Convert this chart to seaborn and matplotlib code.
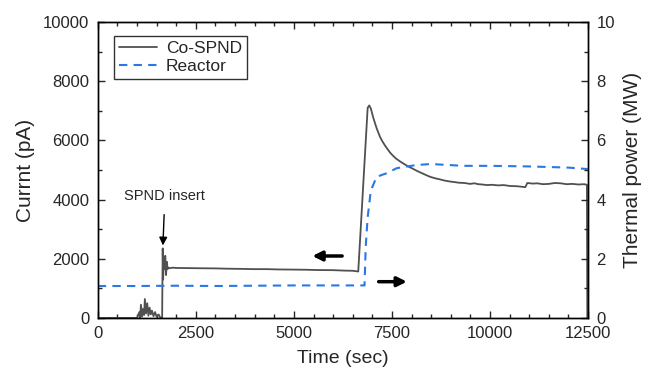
import matplotlib
matplotlib.use("Agg")
import matplotlib.pyplot as plt
from matplotlib.ticker import MultipleLocator
import numpy as np
import pandas as pd
import seaborn as sns

# Co-SPND current (pA) vs time (sec)
spnd_time = [0, 1000, 1060, 1080, 1100, 1130, 1150, 1180, 1200, 1230, 1260, 1290,
             1320, 1350, 1380, 1420, 1460, 1500, 1550, 1600, 1640, 1655, 1665, 1680,
             1700, 1720, 1740, 1760, 1780, 1800, 1850, 1900, 2000, 2300, 2600, 3000,
             3300, 3600, 4000, 4300, 4600, 5000, 5300, 5600, 6000, 6300, 6500, 6640,
             6880, 6920, 6960, 7024, 7109, 7194, 7250, 7320, 7400, 7449, 7520, 7600,
             7704, 7800, 7900, 7960, 8050, 8150, 8250, 8350, 8470, 8600, 8700, 8850,
             8980, 9100, 9200, 9350, 9490, 9600, 9700, 9800, 9923, 10050, 10200, 10350,
             10500, 10700, 10900, 10950, 11100, 11200, 11350, 11500, 11650, 11800,
             11950, 12100, 12250, 12400, 12470, 12480, 12500]
spnd_current = [0, 0, 200, 0, 450, 50, 300, 100, 640, 150, 500, 80,
                350, 120, 250, 60, 200, 40, 120, 0, 0, 2350, 1300, 1800,
                1650, 2100, 1450, 1900, 1650, 1700, 1680, 1700, 1690, 1685, 1680, 1675,
                1665, 1660, 1650, 1650, 1640, 1635, 1630, 1620, 1615, 1600, 1595, 1570,
                7100, 7180, 7080, 6760, 6410, 6120, 5980, 5830, 5680, 5590, 5490, 5390,
                5290, 5210, 5130, 5090, 5030, 4960, 4900, 4840, 4770, 4720, 4690, 4640,
                4610, 4590, 4570, 4560, 4530, 4550, 4520, 4510, 4490, 4500, 4480, 4490,
                4460, 4450, 4420, 4560, 4540, 4550, 4520, 4530, 4560, 4550,
                4520, 4530, 4510, 4520, 4500, 0, 0]

# Reactor thermal power (MW)
reactor_time = [0, 1000, 2000, 3000, 4000, 5000, 6000, 6500, 6800, 6830, 6880, 6960,
                7109, 7364, 7620, 8130, 8500, 9320, 10000, 11000, 12000, 12500]
reactor_power = [1.08, 1.08, 1.09, 1.08, 1.09, 1.10, 1.10, 1.10, 1.10, 2.4, 3.4, 4.3,
                 4.77, 4.89, 5.06, 5.17, 5.20, 5.14, 5.14, 5.12, 5.08, 5.03]

sns.set_style("ticks")
plt.rcParams['font.family'] = ['Liberation Sans', 'DejaVu Sans']

df_spnd = pd.DataFrame({"time": spnd_time, "current": spnd_current})
df_reac = pd.DataFrame({"time": reactor_time, "power": reactor_power})

fig = plt.figure(figsize=(6.52, 3.79), dpi=100)
ax = fig.add_axes([0.150, 0.161, 0.752, 0.781])
ax2 = ax.twinx()

sns.lineplot(data=df_spnd, x="time", y="current", ax=ax, color="#505050",
             lw=1.3, label="Co-SPND", legend=False, sort=False)
sns.lineplot(data=df_reac, x="time", y="power", ax=ax2, color="#2a78e4",
             lw=1.5, dashes=False, label="Reactor", legend=False, sort=False)
ax2.lines[0].set_linestyle((0, (4, 3)))

ax.set_xlim(0, 12500)
ax.set_ylim(0, 10000)
ax2.set_ylim(0, 10)
ax.set_xticks([0, 2500, 5000, 7500, 10000, 12500])
ax.set_yticks([0, 2000, 4000, 6000, 8000, 10000])
ax2.set_yticks([0, 2, 4, 6, 8, 10])
ax.xaxis.set_minor_locator(MultipleLocator(500))
ax.yaxis.set_minor_locator(MultipleLocator(1000))
ax2.yaxis.set_minor_locator(MultipleLocator(1))

ax.tick_params(axis="x", which="both", direction="in", top=True, labelsize=12)
ax.tick_params(axis="y", which="both", direction="in", labelsize=12)
ax2.tick_params(axis="y", which="both", direction="in", labelsize=12)
for a in (ax, ax2):
    a.tick_params(which="major", length=5, width=1, pad=6)
    a.tick_params(which="minor", length=3, width=1)
    for s in a.spines.values():
        s.set_linewidth(1)
        s.set_color("black")

ax.set_xlabel("Time (sec)", fontsize=14, labelpad=6)
ax.set_ylabel("Currnt (pA)", fontsize=15, labelpad=6)
ax2.set_ylabel("Thermal power (MW)", fontsize=15, labelpad=6)

# direction arrows
ax.annotate("", xy=(5400, 2094), xytext=(6300, 2094),
            arrowprops=dict(arrowstyle="-|>", color="black", lw=2.5,
                            mutation_scale=14))
ax.annotate("", xy=(7950, 1226), xytext=(7090, 1226),
            arrowprops=dict(arrowstyle="-|>", color="black", lw=2.5,
                            mutation_scale=14))
ax.annotate("SPND insert", xy=(1660, 2450), xytext=(1710, 4120),
            ha="center", va="center", fontsize=10.5,
            arrowprops=dict(arrowstyle="-|>", color="black", lw=1,
                            mutation_scale=12, shrinkA=6, shrinkB=0))

h1, l1 = ax.get_legend_handles_labels()
h2, l2 = ax2.get_legend_handles_labels()
leg = ax2.legend(h1 + h2, l1 + l2, loc="upper left", bbox_to_anchor=(0.033, 0.953),
                 borderaxespad=0, fontsize=12.5, frameon=True, fancybox=False,
                 handlelength=2.2, handletextpad=0.5, borderpad=0.3,
                 labelspacing=0.15)
leg.get_frame().set_edgecolor("black")
leg.get_frame().set_linewidth(1)

fig.savefig("out.png", dpi=100)
